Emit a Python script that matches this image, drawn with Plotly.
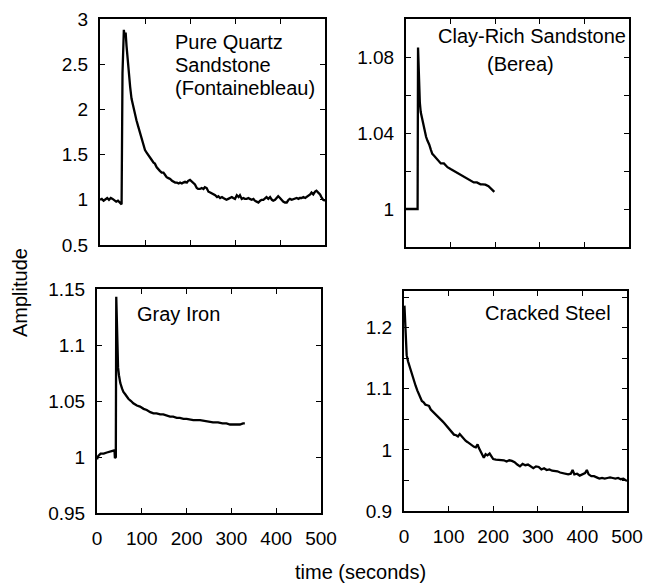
import plotly.graph_objects as go

# ---------------- data ----------------
quartz_t = [0, 4, 8, 12, 16, 20, 24, 28, 32, 36, 40, 44, 48, 50, 53, 55, 57, 59, 63, 67, 70, 74, 78, 81, 85, 89,
            93, 96, 100, 104, 107, 111, 115, 119, 122, 126, 130, 133, 137, 141, 144, 148, 152, 156, 160, 163,
            167, 171, 175, 178, 182, 185, 189, 193, 196, 200, 204, 207, 211, 215, 218, 222, 226, 230, 233, 237,
            241, 245, 249, 252, 256, 260, 263, 267, 271, 274, 278, 281, 285, 289, 293, 296, 300, 304, 308, 311,
            315, 319, 322, 326, 330, 333, 337, 341, 344, 348, 352, 356, 359, 363, 367, 370, 374, 378, 382, 385,
            389, 393, 396, 400, 404, 407, 411, 415, 419, 422, 426, 430, 433, 437, 441, 444, 448, 452, 456, 459,
            463, 467, 470, 474, 478, 481, 485, 489, 492, 496, 500]
quartz_a = [1.00, 1.01, 0.99, 1.01, 1.02, 1.00, 1.02, 1.01, 0.99, 0.98, 0.99, 0.97, 0.95, 2.40, 2.88, 2.80, 2.85,
            2.70, 2.42, 2.25, 2.12, 2.02, 1.94, 1.88, 1.81, 1.74, 1.68, 1.62, 1.55, 1.52, 1.50, 1.48, 1.44, 1.41,
            1.40, 1.36, 1.33, 1.32, 1.30, 1.30, 1.28, 1.25, 1.24, 1.23, 1.21, 1.20, 1.19, 1.19, 1.18, 1.19, 1.18,
            1.19, 1.20, 1.19, 1.21, 1.22, 1.20, 1.18, 1.17, 1.13, 1.12, 1.12, 1.13, 1.12, 1.14, 1.13, 1.09, 1.08,
            1.07, 1.06, 1.05, 1.03, 1.04, 1.02, 1.03, 1.02, 1.01, 1.00, 1.01, 1.02, 1.03, 1.02, 1.01, 1.05, 1.03,
            1.05, 1.01, 1.02, 1.01, 1.01, 1.02, 1.01, 1.00, 1.01, 0.99, 0.98, 0.97, 0.99, 1.00, 1.00, 1.02, 1.03,
            1.01, 1.03, 1.00, 0.99, 1.00, 1.03, 1.04, 1.02, 0.99, 0.98, 0.97, 0.97, 1.00, 1.01, 1.00, 1.01, 1.01,
            1.02, 1.01, 1.02, 1.02, 1.03, 1.02, 1.03, 1.04, 1.06, 1.08, 1.06, 1.09, 1.10, 1.08, 1.06, 1.03, 1.00,
            0.99]

berea_t = [0, 10, 20, 26, 27, 28, 29, 31, 33, 37, 41, 45, 48, 52, 56, 59, 63, 67, 70, 74, 78, 85, 89, 93, 100,
           107, 115, 122, 130, 137, 144, 152, 159, 167, 172, 178, 185, 189, 194, 198]
berea_a = [1.000, 1.000, 1.000, 1.000, 1.085, 1.075, 1.062, 1.056, 1.051, 1.046, 1.042, 1.038, 1.036, 1.034,
           1.031, 1.029, 1.028, 1.027, 1.026, 1.025, 1.024, 1.024, 1.023, 1.022, 1.021, 1.020, 1.019, 1.018,
           1.017, 1.016, 1.015, 1.014, 1.014, 1.013, 1.013, 1.0128, 1.012, 1.011, 1.010, 1.009]

iron_t = [0, 3, 8, 15, 22, 30, 36, 39, 40, 42, 43, 45, 47, 49, 52, 56, 59, 63, 70, 76, 81, 89, 96, 104, 111, 119,
          126, 133, 141, 148, 156, 163, 170, 178, 185, 193, 200, 215, 230, 244, 259, 270, 280, 289, 297, 304, 311,
          319, 326, 330]
iron_a = [0.998, 1.001, 1.003, 1.003, 1.004, 1.005, 1.006, 1.006, 0.999, 1.000, 1.143, 1.100, 1.080, 1.073, 1.066,
          1.061, 1.058, 1.056, 1.052, 1.050, 1.048, 1.046, 1.045, 1.043, 1.042, 1.040, 1.039, 1.039, 1.038, 1.038,
          1.037, 1.036, 1.036, 1.035, 1.035, 1.034, 1.034, 1.033, 1.033, 1.032, 1.031, 1.031, 1.030, 1.030, 1.029,
          1.029, 1.029, 1.029, 1.030, 1.030]

steel_t = [1, 2, 3, 4, 6, 9, 13, 18, 22, 26, 30, 35, 40, 44, 48, 52, 56, 60, 65, 70, 74, 78, 82, 86, 90, 95, 99,
           104, 108, 112, 117, 121, 125, 129, 133, 138, 142, 147, 152, 157, 161, 165, 168, 172, 176, 179, 183, 187,
           192, 196, 200, 206, 212, 218, 224, 230, 236, 242, 248, 254, 260, 266, 272, 278, 284, 290, 296, 302, 308,
           314, 320, 326, 332, 338, 344, 350, 356, 362, 368, 374, 378, 382, 388, 394, 400, 406, 410, 414, 420, 426,
           432, 438, 444, 450, 456, 462, 468, 474, 480, 486, 492, 496, 500]
steel_a = [1.236, 1.215, 1.190, 1.165, 1.155, 1.145, 1.135, 1.122, 1.112, 1.105, 1.097, 1.088, 1.080, 1.078, 1.074,
           1.073, 1.072, 1.066, 1.062, 1.058, 1.056, 1.052, 1.050, 1.047, 1.044, 1.040, 1.036, 1.032, 1.029, 1.025,
           1.024, 1.022, 1.026, 1.022, 1.018, 1.015, 1.013, 1.010, 1.008, 1.005, 1.004, 1.009, 1.003, 0.998, 0.992,
           0.987, 0.993, 0.991, 0.994, 0.990, 0.985, 0.984, 0.984, 0.983, 0.983, 0.981, 0.983, 0.982, 0.980, 0.976,
           0.973, 0.977, 0.975, 0.976, 0.973, 0.970, 0.973, 0.972, 0.968, 0.970, 0.967, 0.968, 0.966, 0.966, 0.965,
           0.963, 0.962, 0.961, 0.960, 0.961, 0.967, 0.960, 0.961, 0.958, 0.960, 0.962, 0.967, 0.960, 0.957, 0.957,
           0.955, 0.953, 0.954, 0.953, 0.954, 0.955, 0.954, 0.953, 0.954, 0.952, 0.953, 0.951, 0.949]

x_ticks = [0, 100, 200, 300, 400, 500]
x_labels = ["0", "100", "200", "300", "400", "500"]

y1_ticks = [0.5, 1, 1.5, 2, 2.5, 3]
y1_labels = ["0.5", "1", "1.5", "2", "2.5", "3"]
y2_ticks = [0.98, 1.00, 1.02, 1.04, 1.06, 1.08, 1.10]
y2_labels = ["", "1", "", "1.04", "", "1.08", ""]
y3_ticks = [0.95, 1.00, 1.05, 1.10, 1.15]
y3_labels = ["0.95", "1", "1.05", "1.1", "1.15"]
y4_ticks = [0.90, 0.95, 1.00, 1.05, 1.10, 1.15, 1.20, 1.25]
y4_labels = ["0.9", "", "1", "", "1.1", "", "1.2", ""]

# ---------------- figure ----------------
W, H = 645, 584
FONT = "Liberation Sans, Arial, sans-serif"


def dx(p0, p1):
    return [p0 / W, p1 / W]


def dy(p_top, p_bot):
    return [1 - p_bot / H, 1 - p_top / H]


fig = go.Figure()
line = dict(color="black", width=2.3)
fig.add_trace(go.Scatter(x=quartz_t, y=quartz_a, mode="lines", line=line, xaxis="x", yaxis="y"))
fig.add_trace(go.Scatter(x=berea_t, y=berea_a, mode="lines", line=line, xaxis="x2", yaxis="y2"))
fig.add_trace(go.Scatter(x=iron_t, y=iron_a, mode="lines", line=line, xaxis="x3", yaxis="y3"))
fig.add_trace(go.Scatter(x=steel_t, y=steel_a, mode="lines", line=line, xaxis="x4", yaxis="y4"))

common = dict(showline=True, linecolor="black", linewidth=2, mirror="ticks", ticks="inside",
              ticklen=5, tickwidth=1, tickcolor="black", showgrid=False, zeroline=False,
              automargin=False, tickfont=dict(family=FONT, size=19, color="black"))


def xax(dom, anchor, labels):
    return dict(domain=dom, anchor=anchor, range=[0, 500], tickmode="array", tickvals=x_ticks,
                ticktext=x_labels, showticklabels=labels, ticklabelstandoff=7, **common)


def yax(dom, anchor, rng, tv, tt):
    return dict(domain=dom, anchor=anchor, range=rng, tickmode="array", tickvals=tv, ticktext=tt,
                ticklabelstandoff=6, **common)


fig.update_layout(
    template="none",
    width=W, height=H, autosize=False, margin=dict(l=0, r=0, t=0, b=0, pad=0),
    paper_bgcolor="white", plot_bgcolor="white", showlegend=False,
    xaxis=xax(dx(100, 325), "y", False),
    yaxis=yax(dy(19, 245), "x", [0.5, 3], y1_ticks, y1_labels),
    xaxis2=xax(dx(406, 629), "y2", False),
    yaxis2=yax(dy(19, 247), "x2", [0.98, 1.10], y2_ticks, y2_labels),
    xaxis3=xax(dx(97, 321), "y3", True),
    yaxis3=yax(dy(289, 513), "x3", [0.95, 1.15], y3_ticks, y3_labels),
    xaxis4=xax(dx(404, 627), "y4", True),
    yaxis4=yax(dy(291, 511), "x4", [0.9, 1.26], y4_ticks, y4_labels),
)

afont = dict(family=FONT, size=20, color="black")
notes = [
    ("x", "y", 162, 2.745, "Pure Quartz", "left"),
    ("x", "y", 162, 2.49, "Sandstone", "left"),
    ("x", "y", 162, 2.235, "(Fontainebleau)", "left"),
    ("x2", "y2", 282, 1.0908, "Clay-Rich Sandstone", "center"),
    ("x2", "y2", 257, 1.0765, "(Berea)", "center"),
    ("x3", "y3", 84, 1.128, "Gray Iron", "left"),
    ("x4", "y4", 178, 1.2246, "Cracked Steel", "left"),
]
for xr, yr, xv, yv, txt, anc in notes:
    fig.add_annotation(x=xv, y=yv, xref=xr, yref=yr, text=txt, showarrow=False,
                       xanchor=anc, yanchor="middle", font=afont)

fig.add_annotation(x=20 / W, y=1 - 293 / H, xref="paper", yref="paper", text="Amplitude",
                   textangle=-90, showarrow=False, xanchor="center", yanchor="middle", font=afont)
fig.add_annotation(x=361 / W, y=1 - 572 / H, xref="paper", yref="paper", text="time (seconds)",
                   showarrow=False, xanchor="center", yanchor="middle", font=afont)

fig.write_html("out.html")
